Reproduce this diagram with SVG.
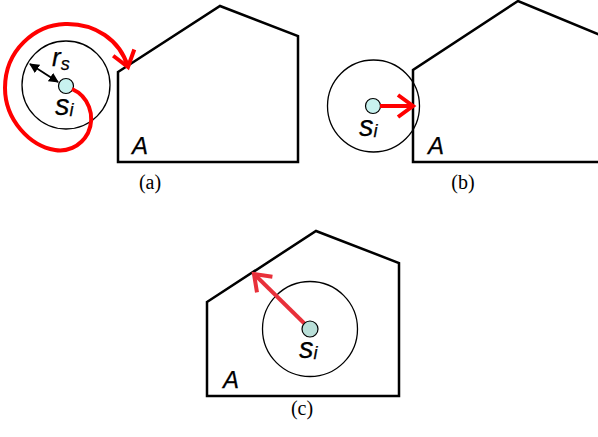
<svg xmlns="http://www.w3.org/2000/svg" width="598" height="437" viewBox="0 0 598 437">
<style>
.poly{fill:none;stroke:#000;stroke-width:2.5;stroke-linejoin:miter}
.big{fill:none;stroke:#000;stroke-width:1.3}
.dot{fill:#c8f2ef;stroke:#000;stroke-width:1.2}
.red{fill:none;stroke:#f00;stroke-width:4;stroke-linecap:butt}
.lab{font-family:"Liberation Sans",Arial,sans-serif;font-style:italic;fill:#000;stroke:#000;stroke-width:0.25}
.cap{font-family:"Liberation Serif","Times New Roman",serif;font-size:20px;fill:#000}
</style>
<defs>
<marker id="chev" markerUnits="userSpaceOnUse" viewBox="0 0 22 26" refX="18" refY="13" markerWidth="22" markerHeight="26" orient="auto">
<path d="M3,2 L18,13 L3,24" fill="none" stroke="#f00" stroke-width="4"/>
</marker>
<marker id="chevc" markerUnits="userSpaceOnUse" viewBox="0 0 22 26" refX="18" refY="13" markerWidth="22" markerHeight="26" orient="auto">
<path d="M3,2 L18,13 L3,24" fill="none" stroke="#e8303a" stroke-width="4"/>
</marker>
<marker id="tri" markerUnits="userSpaceOnUse" viewBox="0 0 10 10" refX="9" refY="5" markerWidth="10" markerHeight="10" orient="auto-start-reverse">
<path d="M0,0 L10,5 L0,10 Z" fill="#000"/>
</marker>
</defs>

<g id="panel-a">
<g id="region-a">
<polygon class="poly" points="118,72 220,6 298,36 298,162 118,162"/>
<text class="lab" x="132" y="154" font-size="24">A</text>
</g>
<g id="sensor-a">
<circle class="big" cx="66" cy="85" r="44"/>
<circle class="dot" cx="66" cy="86" r="7.5"/>
<text class="lab" x="55" y="115" font-size="29">s<tspan font-size="18" dy="1">i</tspan></text>
<text class="lab" x="52" y="66" font-size="26">r<tspan font-size="18" dy="4">s</tspan></text>
</g>
<g id="caption-a"><text class="cap" x="150" y="189" text-anchor="middle">(a)</text></g>
</g>

<g id="panel-b">
<g id="region-b">
<polyline class="poly" points="600,35 518,1 413,70 413,162 600,162"/>
<text class="lab" x="428" y="154" font-size="24">A</text>
</g>
<g id="sensor-b">
<circle class="big" cx="373.5" cy="106" r="46"/>
<circle class="dot" cx="373" cy="106" r="7.5"/>
<text class="lab" x="359" y="136" font-size="29">s<tspan font-size="18" dy="1">i</tspan></text>
</g>
<g id="caption-b"><text class="cap" x="463" y="189" text-anchor="middle">(b)</text></g>
</g>

<g id="panel-c">
<g id="region-c">
<polygon class="poly" points="207,302 316,231 399,263 399,396 207,396"/>
<text class="lab" x="223" y="388" font-size="24">A</text>
</g>
<g id="sensor-c">
<circle class="big" cx="310" cy="329" r="47.5"/>
<text class="lab" x="299" y="358" font-size="29">s<tspan font-size="18" dy="1">i</tspan></text>
</g>
<g id="caption-c"><text class="cap" x="302" y="415" text-anchor="middle">(c)</text></g>
</g>

<g id="connectors">
<path class="red" d="M72,89 C88,96 96,115 88,133 C80,148 65,152 55,150 C30,146 5,120 5,88 C5,50 35,25 65,24 C95,23 120,40 128,67" marker-end="url(#chev)"/>
<line x1="30" y1="64" x2="58" y2="82" stroke="#000" stroke-width="1.8" marker-start="url(#tri)" marker-end="url(#tri)"/>
<line class="red" x1="380" y1="106" x2="413" y2="106" marker-end="url(#chev)"/>
<line x1="310" y1="329" x2="254" y2="274" stroke="#e8303a" stroke-width="4" marker-end="url(#chevc)"/>
<circle class="dot" cx="310" cy="329" r="8" style="fill:#b9dfd8"/>
</g>
</svg>
